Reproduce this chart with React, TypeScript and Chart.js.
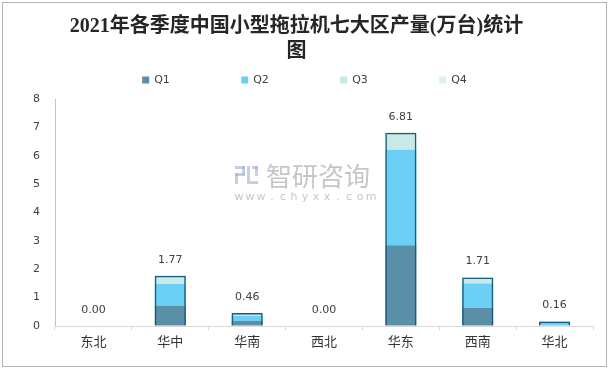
import React, { useEffect, useRef } from "react";
import { Chart, registerables } from "chart.js";

Chart.register(...registerables);

const categories = ["东北", "华中", "华南", "西北", "华东", "西南", "华北"];
const q1 = [0, 0.71, 0.18, 0, 2.85, 0.64, 0.02];
const q2 = [0, 0.77, 0.18, 0, 3.36, 0.86, 0.13];
const q3 = [0, 0.29, 0.1, 0, 0.6, 0.21, 0.01];
const q4 = [0, 0, 0, 0, 0, 0, 0];
const totals = [0.0, 1.77, 0.46, 0.0, 6.81, 1.71, 0.16];
const seriesNames = ["Q1", "Q2", "Q3", "Q4"];
const seriesColors = ["#5b8fa7", "#6bcff6", "#c9e8e6", "#dcf1fa"];
const titleLines = ["2021年各季度中国小型拖拉机七大区产量(万台)统计", "图"];

const SANS = '"DejaVu Sans", "Noto Sans CJK SC", sans-serif';

const legendPlugin = {
  id: "customLegend",
  afterDraw(chart: any) {
    const ctx = chart.ctx;
    const ds = chart.data.datasets.filter((d: any) => d.stack === "q");
    ctx.save();
    ctx.font = "11px " + SANS;
    const slot = 99;
    const box = 7;
    const gap = 5;
    const lastW = box + gap + ctx.measureText(ds[ds.length - 1].label).width;
    const total = slot * (ds.length - 1) + lastW;
    let x = chart.width / 2 - total / 2;
    const y = 80;
    ds.forEach((d: any) => {
      ctx.fillStyle = d.backgroundColor;
      ctx.fillRect(x, y - box / 2, box, box);
      ctx.fillStyle = "#404040";
      ctx.textBaseline = "middle";
      ctx.textAlign = "left";
      ctx.fillText(d.label, x + box + gap, y + 0.5);
      x += slot;
    });
    ctx.restore();
  },
};

const framePlugin = {
  id: "frame",
  afterDraw(chart: any) {
    const ctx = chart.ctx;
    ctx.save();
    ctx.strokeStyle = "#b4b4b4";
    ctx.lineWidth = 1;
    ctx.strokeRect(2.5, 2.5, chart.width - 5, chart.height - 5);
    ctx.restore();
  },
};

const watermarkPlugin = {
  id: "watermark",
  beforeDatasetsDraw(chart: any) {
    const ctx = chart.ctx;
    ctx.save();
    // logo
    ctx.fillStyle = "rgba(150,170,205,0.55)";
    ctx.fillRect(235, 166, 10, 3);
    ctx.fillRect(242, 166, 3, 9);
    ctx.fillRect(235, 173, 10, 3);
    ctx.fillRect(235, 173, 3, 11);
    ctx.fillRect(247, 166, 3, 18);
    ctx.fillRect(252, 166, 6, 3);
    ctx.fillRect(255, 166, 3, 10);
    ctx.fillRect(250, 181, 8, 3);
    ctx.fillStyle = "rgba(160,160,160,0.6)";
    ctx.font = '26px "Noto Sans CJK SC", sans-serif';
    ctx.textBaseline = "middle";
    ctx.textAlign = "left";
    ctx.fillText("智研咨询", 266, 176);
    ctx.font = "11px " + SANS;
    const s = "www.chyxx.com";
    for (let i = 0; i < s.length; i++) {
      ctx.textAlign = "center";
      ctx.fillText(s[i], 239 + i * 11, 197);
    }
    ctx.restore();
  },
};

const labelPlugin = {
  id: "totalLabels",
  afterDatasetsDraw(chart: any) {
    const ctx = chart.ctx;
    const idx = chart.data.datasets.findIndex((d: any) => d.stack === "total");
    const meta = chart.getDatasetMeta(idx);
    ctx.save();
    ctx.font = "11px " + SANS;
    ctx.fillStyle = "#404040";
    ctx.textAlign = "center";
    ctx.textBaseline = "middle";
    meta.data.forEach((el: any, i: number) => {
      ctx.fillText(totals[i].toFixed(2), el.x, el.y - 16);
    });
    ctx.restore();
  },
};

export default function App() {
  const ref = useRef<HTMLCanvasElement | null>(null);
  useEffect(() => {
    if (!ref.current) return;
    const qs = [q1, q2, q3, q4];
    const datasets: any[] = qs.map((vals, i) => ({
      label: seriesNames[i],
      data: vals,
      backgroundColor: seriesColors[i],
      borderWidth: 0,
      stack: "q",
      order: 1,
      categoryPercentage: 1,
      barPercentage: 0.405,
    }));
    datasets.push({
      label: "total",
      data: totals,
      backgroundColor: "rgba(0,0,0,0)",
      borderColor: "#145f80",
      borderWidth: 1.5,
      stack: "total",
      grouped: false,
      order: 0,
      categoryPercentage: 1,
      barPercentage: 0.405,
    });
    const chart = new Chart(ref.current, {
      type: "bar",
      data: { labels: categories, datasets },
      plugins: [watermarkPlugin, labelPlugin, legendPlugin, framePlugin],
      options: {
        responsive: false,
        animation: false,
        layout: { padding: { left: 0, right: 16, top: 0, bottom: 0 } },
        plugins: {
          legend: { display: false },
          tooltip: { enabled: false },
          title: {
            display: true,
            text: titleLines,
            color: "#262626",
            font: { family: '"Liberation Serif", "Noto Sans CJK SC", serif', size: 20, weight: "bold", lineHeight: 1.25 },
            padding: { top: 14, bottom: 35 },
          },
        },
        scales: {
          x: {
            stacked: true,
            afterFit: (s: any) => { s.height = 43; },
            grid: { offset: true, drawOnChartArea: false, drawTicks: true, tickLength: 4, color: "#d9d9d9" },
            border: { display: true, color: "#d9d9d9" },
            ticks: { color: "#333333", padding: 5, font: { family: SANS, size: 13 } },
          },
          y: {
            stacked: true,
            min: 0,
            max: 8,
            afterFit: (s: any) => { s.width = 55; },
            grid: { display: true, drawOnChartArea: false, drawTicks: false },
            border: { display: true, color: "#c4c4c4" },
            ticks: { stepSize: 1, color: "#404040", padding: 15, font: { family: SANS, size: 11 } },
          },
        },
      } as any,
    });
    return () => chart.destroy();
  }, []);
  return (
    <div style={{ position: "fixed", left: 0, top: 0, width: 609, height: 369, background: "#fff" }}>
      <canvas ref={ref} width={609} height={369} style={{ display: "block" }} />
    </div>
  );
}
